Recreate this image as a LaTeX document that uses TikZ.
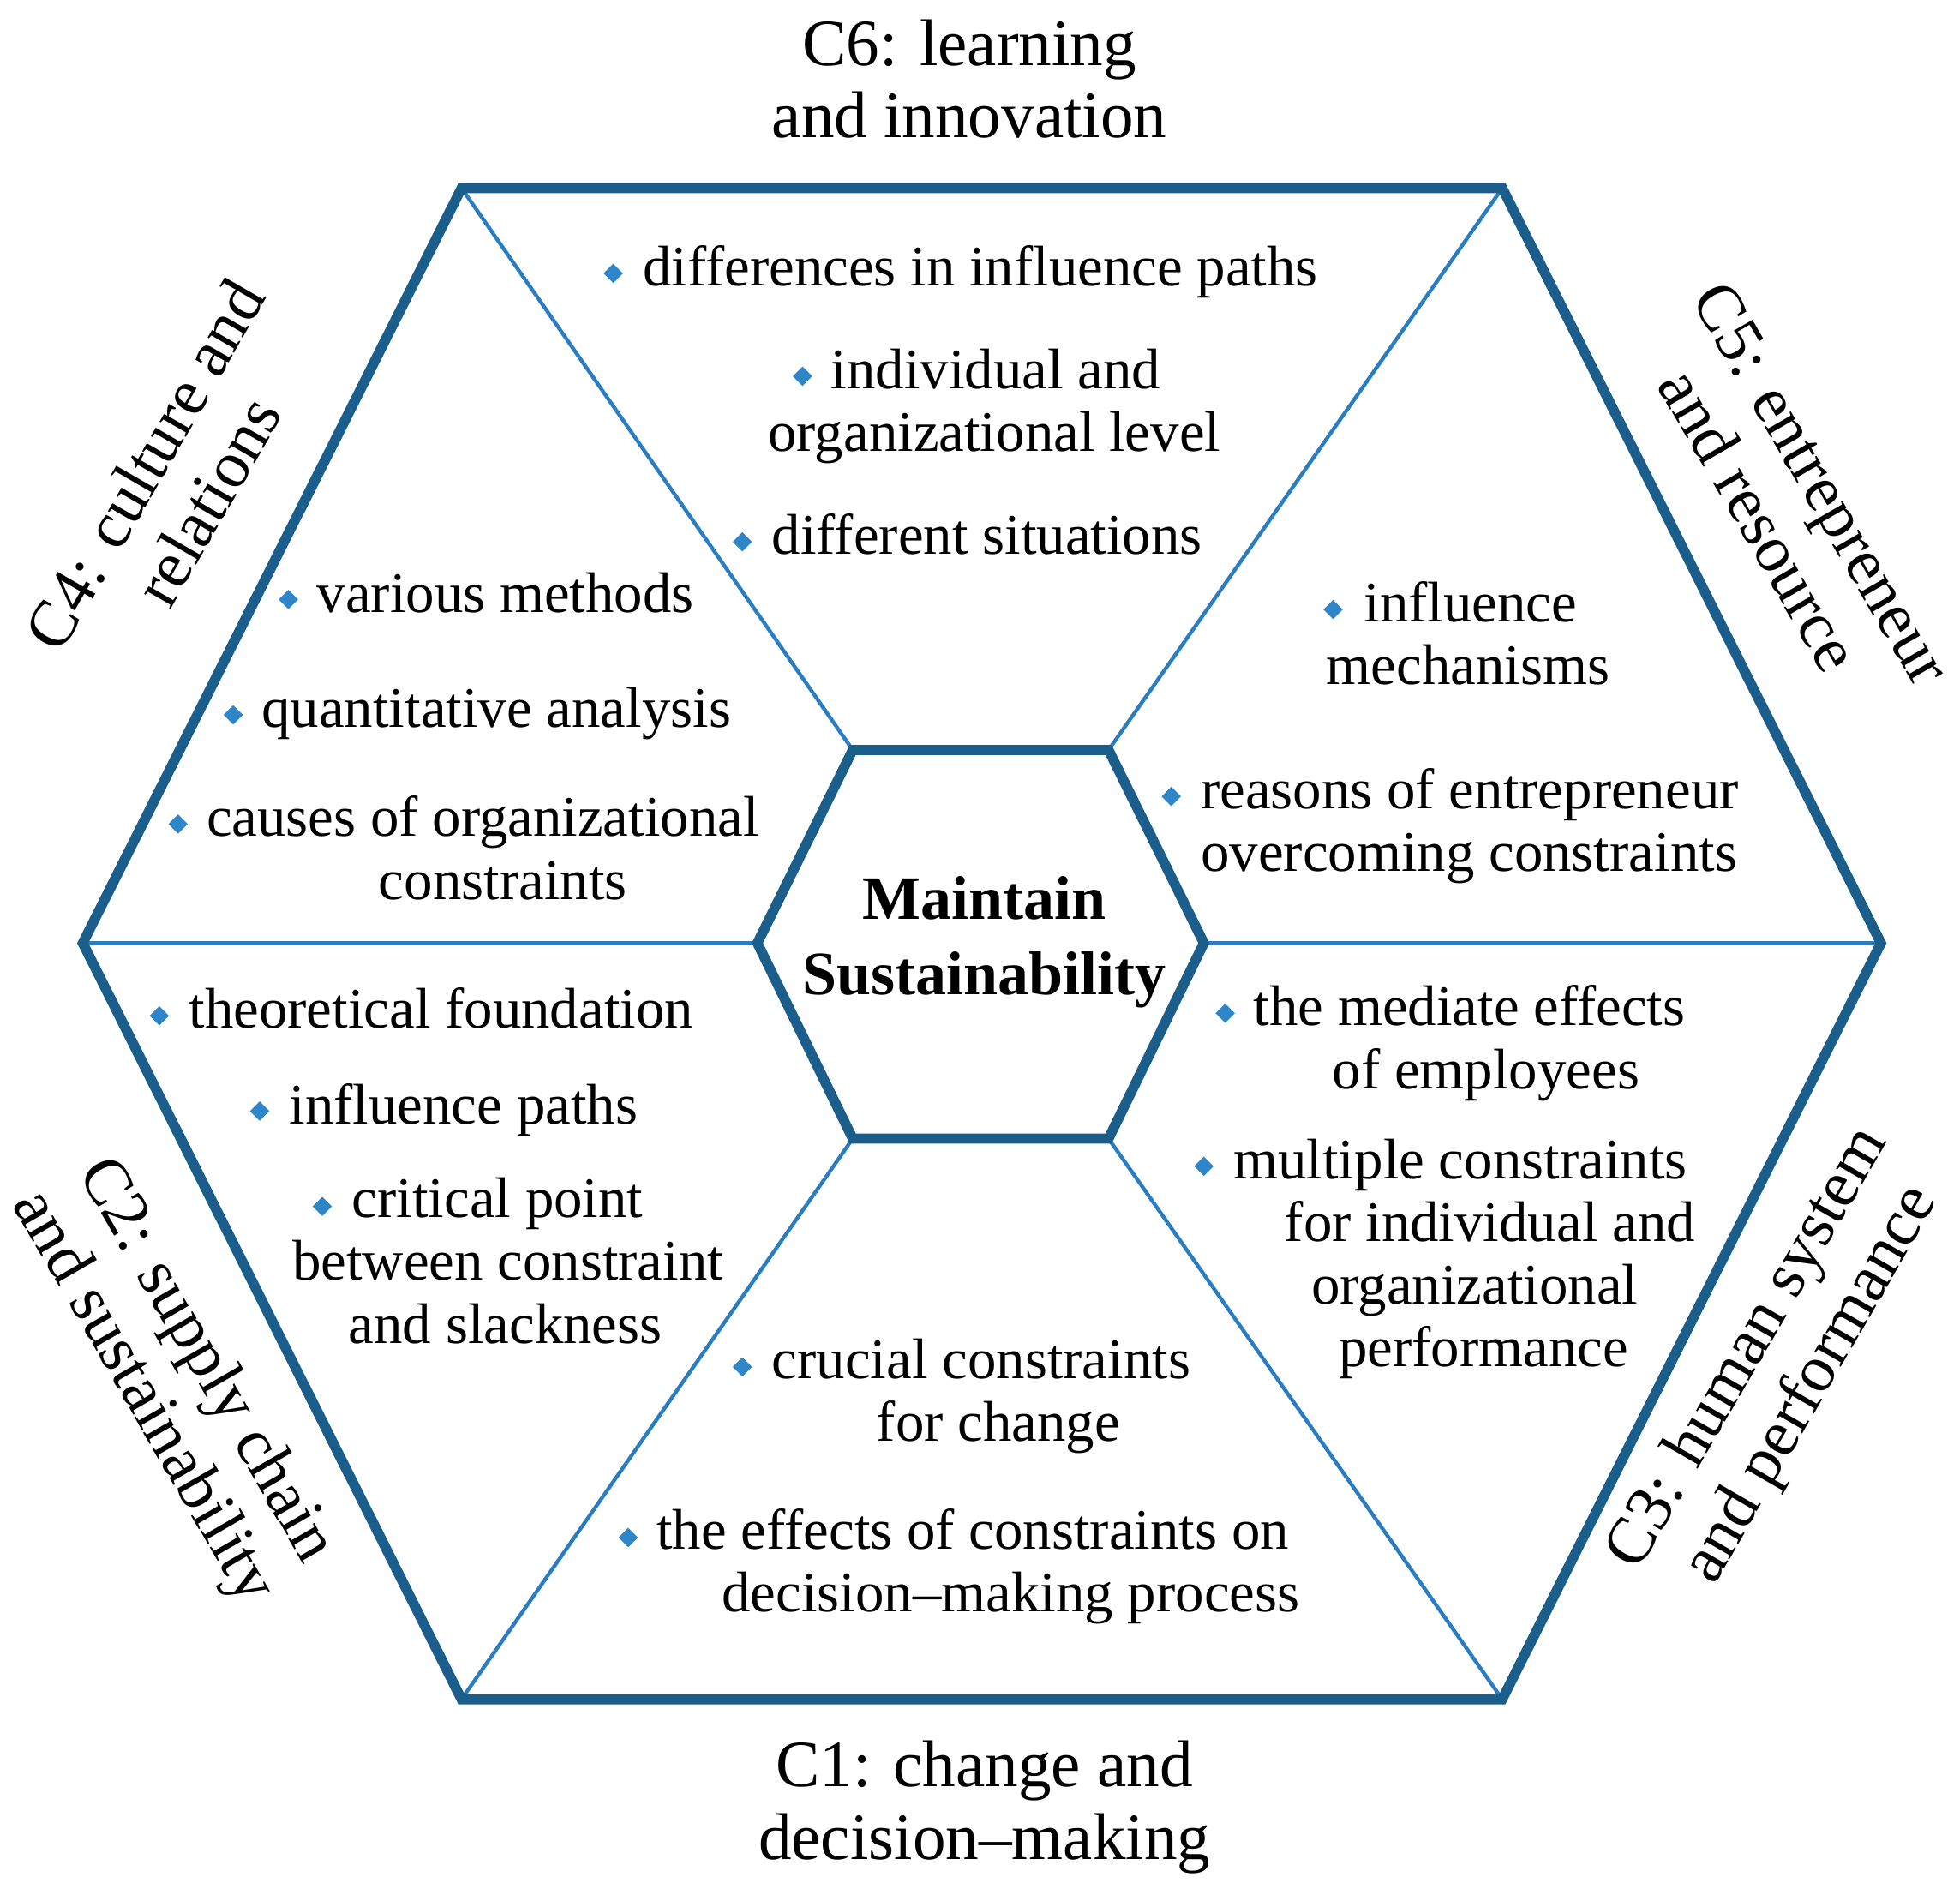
\documentclass[tikz,border=0pt]{standalone}
\usepackage{fontspec}
\setmainfont{Liberation Serif}
\usetikzlibrary{shapes.geometric}
\definecolor{thick}{HTML}{1B5E8C}
\definecolor{thin}{HTML}{2A7DC0}
\definecolor{bul}{HTML}{2E86C8}
\begin{document}
\begin{tikzpicture}[x=0.1mm,y=-0.1mm,
 hexo/.style={draw=thick,line width=0.8mm,line join=miter},
 spoke/.style={draw=thin,line width=0.3mm},
 b/.style={diamond,fill=bul,inner sep=0pt,minimum size=1.6mm},
 t/.style={anchor=base west,inner sep=0pt,font=\fontsize{13}{15}\selectfont},
 tc/.style={anchor=base,inner sep=0pt,font=\fontsize{13}{15}\selectfont},
 ttl/.style={align=center,inner sep=0pt,font=\fontsize{15}{16.5}\selectfont}]
\useasboundingbox (0,0) rectangle (1563,1506);
\coordinate (O1) at (368,150); \coordinate (O2) at (1198,150); \coordinate (O3) at (1500,752);
\coordinate (O4) at (1198,1355); \coordinate (O5) at (368,1355); \coordinate (O6) at (66,752);
\coordinate (I1) at (680,598); \coordinate (I2) at (884,598); \coordinate (I3) at (960,752);
\coordinate (I4) at (884,908); \coordinate (I5) at (680,908); \coordinate (I6) at (604,752);
\draw[spoke] (O1)--(I1) (O2)--(I2) (O3)--(I3) (O4)--(I4) (O5)--(I5) (O6)--(I6);
\draw[hexo] (O1)--(O2)--(O3)--(O4)--(O5)--(O6)--cycle;
\draw[hexo] (I1)--(I2)--(I3)--(I4)--(I5)--(I6)--cycle;
% center
\node[tc,font=\fontsize{14}{16}\selectfont\bfseries] (m1) at (785,733) {Maintain};
\node[tc,font=\fontsize{14}{16}\selectfont\bfseries] (m2) at (785,793) {Sustainability};
% top
\node[b] (b1) at (489,218) {}; \node[t] (t1) at (512,228) {differences in influence paths};
\node[b] (b2) at (640,300) {}; \node[t] (t2) at (662,310) {individual and};
\node[tc] (t2b) at (793,360) {organizational level};
\node[b] (b3) at (592,432) {}; \node[t] (t3) at (615,442) {different situations};
% left
\node[b] (b4) at (230,478) {}; \node[t] (t4) at (252,488) {various methods};
\node[b] (b5) at (186,570) {}; \node[t] (t5) at (208,580) {quantitative analysis};
\node[b] (b6) at (142,657) {}; \node[t] (t6) at (164,667) {causes of organizational};
\node[tc] (t6b) at (401,717) {constraints};
% right
\node[b] (b7) at (1063,486) {}; \node[t] (t7) at (1087,496) {influence};
\node[t] (t7b) at (1057,546) {mechanisms};
\node[b] (b8) at (934,635) {}; \node[t] (t8) at (957,645) {reasons of entrepreneur};
\node[t] (t8b) at (957,695) {overcoming constraints};
% bottom left
\node[b] (b9) at (127,810) {}; \node[t] (t9) at (150,820) {theoretical foundation};
\node[b] (b10) at (207,886) {}; \node[t] (t10) at (230,896) {influence paths};
\node[b] (b11) at (257,962) {}; \node[t] (t11) at (280,971) {critical point};
\node[tc] (t11b) at (405,1021) {between constraint};
\node[tc] (t11c) at (403,1071) {and slackness};
% bottom right
\node[b] (b12) at (977,808) {}; \node[t] (t12) at (999,818) {the mediate effects};
\node[tc] (t12b) at (1185,868) {of employees};
\node[b] (b13) at (960,930) {}; \node[t] (t13) at (983,940) {multiple constraints};
\node[tc] (t13b) at (1188,990) {for individual and};
\node[tc] (t13c) at (1176,1040) {organizational};
\node[tc] (t13d) at (1183,1090) {performance};
% bottom
\node[b] (b14) at (592,1090) {}; \node[t] (t14) at (615,1099) {crucial constraints};
\node[tc] (t14b) at (796,1149) {for change};
\node[b] (b15) at (501,1226) {}; \node[t] (t15) at (523,1235) {the effects of constraints on};
\node[tc] (t15b) at (806,1285) {decision–making process};
% titles
\node[ttl] (c6) at (773,63) {C6: learning\\and innovation};
\node[ttl] (c1) at (785,1441) {C1: change and\\decision–making};
\node[ttl,rotate=60] (c4) at (140,385) {C4: culture and\\relations};
\node[ttl,rotate=-60] (c5) at (1428,400) {C5: entrepreneur\\and resource};
\node[ttl,rotate=-60] (c2) at (138,1100) {C2: supply chain\\and sustainability};
\node[ttl,rotate=60] (c3) at (1420,1090) {C3: human system\\and performance};
\end{tikzpicture}
\end{document}
